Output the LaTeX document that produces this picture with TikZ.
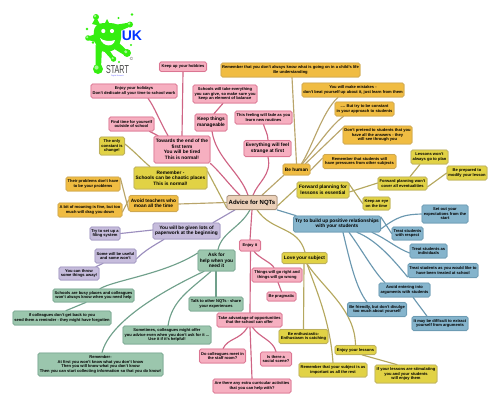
\documentclass[tikz,border=0pt]{standalone}
\usepackage{fontspec}
\setmainfont{Liberation Sans}
\usetikzlibrary{backgrounds}
\definecolor{pkF}{HTML}{F6AFC0}\definecolor{pkD}{HTML}{DB7592}\definecolor{pkL}{HTML}{CF6484}
\definecolor{gdF}{HTML}{F0BC42}\definecolor{gdD}{HTML}{CFA850}\definecolor{gdL}{HTML}{B9A56B}
\definecolor{ylF}{HTML}{E1D245}\definecolor{ylD}{HTML}{BDB05C}\definecolor{ylL}{HTML}{B5A85F}
\definecolor{ppF}{HTML}{C6BCDC}\definecolor{ppD}{HTML}{A298C2}\definecolor{ppL}{HTML}{9C8FBE}
\definecolor{grF}{HTML}{9BC6AD}\definecolor{grD}{HTML}{7AA892}\definecolor{grL}{HTML}{70A08B}
\definecolor{blF}{HTML}{85B4CC}\definecolor{blD}{HTML}{6C9BB3}\definecolor{blL}{HTML}{6B98B0}
\definecolor{ctF}{HTML}{EBD0B8}\definecolor{ctD}{HTML}{A8937E}
\definecolor{splat}{HTML}{35EE10}
\tikzset{
  x=1pt,y=-1pt,
  box/.style={draw,rounded corners=1.6pt,line width=0.7pt,align=center,inner sep=0pt,text=black,
     preaction={draw,draw opacity=0.3,line width=1.5pt},
     font=\bfseries\fontsize{4.05}{4.5}\selectfont},
  med/.style={font=\bfseries\fontsize{4.8}{5.5}\selectfont},
  pk/.style={box,fill=pkF,draw=pkD},
  gd/.style={box,fill=gdF,draw=gdD},
  yl/.style={box,fill=ylF,draw=ylD},
  pp/.style={box,fill=ppF,draw=ppD},
  gr/.style={box,fill=grF,draw=grD},
  bl/.style={box,fill=blF,draw=blD},
  sz/.style 2 args={minimum width=#1pt,minimum height=#2pt},
  lk/.style={line width=1.15pt,line cap=round},
  pkl/.style={lk,draw=pkL},
  gdl/.style={lk,draw=gdL},
  yll/.style={lk,draw=ylL},
  ppl/.style={lk,draw=ppL},
  grl/.style={lk,draw=grL},
  bll/.style={lk,draw=blL},
}
\begin{document}
\begin{tikzpicture}
\useasboundingbox (0,0) rectangle (500,405);
% ---- logo
\fill[splat] plot[smooth cycle,tension=0.7] coordinates {(96,26)(107,23)(119,26)(121,38)(117,47)(108,52)(99,49)(94,38)};
\fill[splat] (92,24)--(96,17)--(101,26)--cycle;
\fill[splat] (114,25)--(130,22.5)--(130,26.5)--(118,32)--cycle;
\fill[splat] (96,34)--(88,36.5)--(88,40)--(96,42)--cycle;
\fill[splat] (104,25)--(107,19)--(110,25)--cycle;
\fill[splat] (116,40)--(127,50.5)--(125,55.5)--(111,47)--cycle;
\fill[splat] (108,48)--(114,57)--(111.5,59.5)--(103,50)--cycle;
\fill[splat] (102,47)--(101,68)--(95.5,67)--(95.5,45)--cycle;
\foreach \cx/\cy/\r in {96/17/3,130/24.5/3,88/38/2.8,127/53/4,113.5/59/2.8,98/69/5}{
  \fill[splat] (\cx,\cy) circle (\r);
  \fill[splat!45!white] (\cx-0.3*\r,\cy-0.3*\r) circle (0.42*\r);
}
\foreach \cx/\cy/\r in {132/14.5/1.3,118.5/18/1.2,87/29/1.4,93/42.5/1.3,131/45/1.2,119/62/1.1}{
  \fill[splat] (\cx,\cy) circle (\r);
}
\fill[white] (103.3,31) circle (2.1);
\fill[white] (112,31) circle (2.1);
\fill[white] (100,38) .. controls (103,41) and (110,42) .. (115,40) .. controls (114,47) and (103,48) .. (100,38) -- cycle;
\node[inner sep=0pt,text=blue!80!cyan,font=\bfseries\fontsize{14}{14}\selectfont] (uk) at (132,35.5) {UK};
\node[inner sep=0pt,font=\fontsize{11.5}{11.5}\selectfont,text=black!75] (start) at (117.5,70) {\scalebox{0.62}[1]{START}};
\node[inner sep=0pt,font=\fontsize{1.9}{2}\selectfont,text=blue!60] (net) at (117.5,76) {Digital Network};
\node[inner sep=0pt,font=\fontsize{4.5}{5}\selectfont,text=black!70] (cr) at (131.5,58.7) {©};
% ---- nodes
\node[box,med,fill=ctF,draw=ctD,sz={50}{14},font=\bfseries\fontsize{6}{7}\selectfont] (root) at (252,202.5) {Advice for NQTs};
% pink
\node[pk,sz={47}{9.5}] (hobby) at (183,66.7) {Keep up your hobbies};
\node[pk,sz={86}{14}] (holiday) at (134,91) {Enjoy your holidays\\Don't dedicate all your time to school work};
\node[pk,sz={45}{14}] (findtime) at (131.5,124) {Find time for yourself\\outside of school};
\node[pk,med,sz={56}{27}] (towards) at (182,149.5) {Towards the end of the\\first term\\You will be tired\\This is normal!};
\node[pk,sz={64}{18}] (schools) at (225,94) {Schools will take everything\\you can give, so make sure you\\keep an element of balance};
\node[pk,med,sz={32}{17}] (keep) at (211,122.5) {Keep things\\manageable};
\node[pk,sz={57}{13}] (feeling) at (263.5,117.5) {This feeling will fade as you\\learn new routines};
\node[pk,med,sz={47}{16}] (every) at (267.5,148.5) {Everything will feel\\strange at first};
\node[pk,sz={21}{11}] (enjoy) at (250,245.5) {Enjoy it};
\node[pk,sz={50}{14}] (things) at (277,275) {Things will go right and\\things will go wrong};
\node[pk,sz={29}{9}] (pragmatic) at (281.5,296.5) {Be pragmatic};
\node[pk,sz={65}{14}] (advantage) at (249.5,320) {Take advantage of opportunities\\that the school can offer};
\node[pk,sz={46}{14}] (staff) at (222.5,356) {Do colleagues meet in\\the staff room?};
\node[pk,sz={31}{14}] (social) at (276,359) {Is there a\\social scene?};
\node[pk,sz={78}{14}] (extra) at (252,386) {Are there any extra curricular activities\\that you can help with?};
% gold
\node[gd,sz={139}{14}] (child) at (290.5,70) {Remember that you don't always know what is going on in a child's life\\Be understanding};
\node[gd,sz={102}{14}] (mistakes) at (353,90) {You will make mistakes -\\don't beat yourself up about it, just learn from them};
\node[gd,sz={59}{14}] (constant) at (364.5,109) {.... But try to be constant\\in your approach to students};
\node[gd,sz={69}{18}] (pretend) at (377.5,135) {Don't pretend to students that you\\have all the answers - they\\will see through you};
\node[gd,sz={73}{14}] (pressures) at (359.5,161.5) {Remember that students will\\have pressures from other subjects};
\node[gd,med,sz={27}{11}] (human) at (296.5,169.5) {Be human};
\node[gd,med,sz={49}{16}] (avoid) at (153.5,203.5) {Avoid teachers who\\moan all the time};
\node[gd,sz={54}{14}] (problems) at (93,184) {Their problems don't have\\to be your problems};
\node[gd,sz={64}{14}] (moaning) at (90,210) {A bit of moaning is fine, but too\\much will drag you down};
% yellow
\node[yl,sz={25}{18}] (change) at (112,146) {The only\\constant is\\change!};
\node[yl,med,sz={73}{22}] (chaotic) at (170.5,178) {Remember -\\Schools can be chaotic places\\This is normal!};
\node[yl,med,sz={52}{16}] (forward) at (323,190) {Forward planning for\\lessons is essential};
\node[yl,sz={49}{13}] (wont) at (402.5,183.5) {Forward planning won't\\cover all eventualities};
\node[yl,sz={37}{14}] (plan) at (429.5,157) {Lessons won't\\always go to plan};
\node[yl,sz={40}{14}] (modify) at (467,173) {Be prepared to\\modify your lesson};
\node[yl,sz={27}{13}] (eye) at (376.5,203.5) {Keep an eye\\on the time};
\node[yl,med,sz={45}{11}] (love) at (304.5,258) {Love your subject};
\node[yl,sz={49}{14}] (enthus) at (303.5,336.5) {Be enthusiastic-\\Enthusiasm is catching};
\node[yl,sz={41}{9}] (enjoyles) at (355.5,350) {Enjoy your lessons};
\node[yl,sz={68}{14}] (important) at (333,370) {Remember that your subject is as\\important as all the rest};
\node[yl,sz={62}{18}] (stimulating) at (406,374) {If your lessons are stimulating\\you and your students\\will enjoy them};
% blue
\node[bl,med,sz={87}{16}] (relation) at (337,224) {Try to build up positive relationships\\with your students};
\node[bl,sz={46}{18}] (setout) at (445,214) {Set out your\\expectations from the\\start};
\node[bl,sz={31}{13}] (respect) at (407.5,233.5) {Treat students\\with respect};
\node[bl,sz={37}{14}] (indiv) at (428.5,251) {Treat students as\\individuals};
\node[bl,sz={70}{14}] (treated) at (443,270.5) {Treat students as you would like to\\have been treated at school};
\node[bl,sz={51}{14}] (argue) at (404.5,290) {Avoid entering into\\arguments with students};
\node[bl,sz={59}{14}] (friendly) at (377,309.5) {Be friendly, but don't divulge\\too much about yourself};
\node[bl,sz={56}{14}] (extract) at (440,323.5) {It may be difficult to extract\\yourself from arguments};
% green
\node[gr,med,sz={37}{21}] (ask) at (216.5,260.5) {Ask for\\help when you\\need it};
\node[gr,sz={81}{13}] (busy) at (93.5,295.5) {Schools are busy places and colleagues\\won't always know when you need help};
\node[gr,sz={98}{14}] (reminder) at (62,318) {If colleagues don't get back to you\\send them a reminder - they might have forgotten};
\node[gr,sz={54}{14}] (talk) at (216,304) {Talk to other NQTs - share\\your experiences};
\node[gr,sz={88}{18}] (sometimes) at (167,335) {Sometimes, colleagues might offer\\you advice even when you don't ask for it ...\\Use it if it's helpful!};
\node[gr,sz={125}{23}] (first) at (100.5,364.5) {Remember-\\At first you won't know what you don't know\\Then you will know what you don't know\\Then you can start collecting information so that you do know!};
% purple
\node[pp,med,sz={67}{16}] (paper) at (186.5,231) {You will be given lots of\\paperwork at the beginning};
\node[pp,sz={30}{13}] (filing) at (105,233.5) {Try to set up a\\filing system};
\node[pp,sz={41}{14}] (useful) at (115.5,256) {Some will be useful\\and some won't};
\node[pp,sz={40}{13}] (throw) at (79,273.5) {You can throw\\some things away!};
% ---- connectors
\begin{scope}[on background layer]
\draw[pkl] ([xshift=-12pt]root.north) .. controls (232,188) and (220,172) .. (towards.south east);
\draw[pkl] ([xshift=-4pt]root.north) .. controls (240,172) and (216,158) .. ([xshift=1pt]keep.south);
\draw[pkl] ([xshift=3pt]keep.north) -- ([xshift=-2pt]schools.south);
\draw[pkl] (towards.north) -- (hobby.south);
\draw[pkl] ([xshift=-14pt]towards.north) .. controls (160,122) and (154,106) .. ([xshift=14pt]holiday.south);
\draw[pkl] ([xshift=-24pt]towards.north) -- ([xshift=18pt]findtime.south);
\draw[pkl] ([xshift=1pt]root.north) .. controls (258,182) and (272,175) .. ([xshift=0.5pt]every.south);
\draw[pkl] ([xshift=0.5pt]every.north) .. controls (268,134) and (265,130) .. (feeling.south);
\draw[pkl] (root.south) -- (enjoy.north);
\draw[pkl] ([xshift=4pt]enjoy.south) .. controls (259,258) and (272,263) .. ([xshift=-3pt]things.north);
\draw[pkl] ([xshift=1pt]things.south) -- (pragmatic.north);
\draw[pkl] ([xshift=0.5pt]enjoy.south) -- ([xshift=0.5pt]advantage.north);
\draw[pkl] ([xshift=0.5pt]advantage.south) -- (extra.north);
\draw[pkl] ([xshift=-2pt]advantage.south) .. controls (240,340) and (228,338) .. ([xshift=0.5pt]staff.north);
\draw[pkl] ([xshift=3pt]advantage.south) .. controls (260,338) and (273,340) .. (social.north);
\draw[yll] ([yshift=-5pt]root.west) -- ([yshift=7pt]chaotic.east);
\draw[yll] ([xshift=-20.5pt]chaotic.north) .. controls (142,160) and (134,151) .. ([yshift=2pt]change.east);
\draw[gdl] (root.west) -- ([yshift=-0.5pt]avoid.east);
\draw[gdl] ([yshift=-6.5pt]avoid.west) -- ([yshift=6pt]problems.east);
\draw[gdl] ([yshift=3.5pt]avoid.west) -- ([yshift=-2pt]moaning.east);
\draw[gdl] ([xshift=10pt]root.north) -- ([xshift=1pt]human.south west);
\draw[gdl] (human.north) -- ([xshift=1.5pt]child.south);
\draw[gdl] ([xshift=5pt]human.north) .. controls (312,148) and (322,112) .. ([xshift=-15pt]mistakes.south);
\draw[gdl] ([xshift=6pt]human.north) .. controls (316,148) and (330,126) .. ([xshift=-21pt]constant.south);
\draw[gdl] ([xshift=9pt]human.north) -- ([yshift=7pt]pretend.west);
\draw[gdl] ([yshift=-1pt]human.east) -- ([yshift=3.5pt]pressures.west);
\draw[yll] ([yshift=-3.5pt]root.east) -- ([yshift=2pt]forward.west);
\draw[yll] ([yshift=-2pt]forward.east) -- ([yshift=0.5pt]wont.west);
\draw[yll] ([xshift=7.5pt]wont.north) -- ([xshift=-9.5pt]plan.south);
\draw[yll] ([yshift=-3.5pt]wont.east) -- (modify.west);
\draw[yll] ([xshift=-1pt,yshift=7pt]forward.east) -- (eye.west);
\draw[bll] ([xshift=25pt]root.south) -- ([xshift=-41pt]relation.north);
\draw[bll] ([yshift=-5pt]relation.east) .. controls (398,216) and (405,214.5) .. (setout.west);
\draw[bll] ([yshift=7pt]relation.east) -- (respect.west);
\draw[bll] ([xshift=35pt]relation.south) .. controls (385,238) and (398,249) .. ([yshift=-2pt]indiv.west);
\draw[bll] ([xshift=20pt]relation.south) .. controls (376,240) and (392,258) .. ([yshift=-6.5pt]treated.west);
\draw[bll] ([xshift=12pt]relation.south) .. controls (362,250) and (374,272) .. ([xshift=-19.5pt]argue.north);
\draw[bll] ([xshift=6pt]relation.south) .. controls (350,262) and (356,288) .. ([xshift=-10pt]friendly.north);
\draw[bll] ([xshift=8.5pt]argue.south) -- ([xshift=-13pt]extract.north);
\draw[yll] ([xshift=5pt]root.south) .. controls (272,232) and (298,226) .. ([xshift=0.5pt]love.north);
\draw[yll] ([xshift=-0.5pt]love.south) -- (enthus.north);
\draw[yll] ([xshift=2.5pt]love.south) .. controls (316,290) and (330,320) .. (important.north);
\draw[yll] ([xshift=2.5pt]love.south) .. controls (325,290) and (355,310) .. (enjoyles.north);
\draw[yll] ([xshift=6.5pt]enjoyles.south) -- ([xshift=-9pt]stimulating.north);
\draw[grl] ([xshift=-2pt]root.south) .. controls (240,228) and (222,232) .. ([xshift=1.5pt]ask.north);
\draw[grl] ([xshift=-0.5pt]ask.south) -- (talk.north);
\draw[grl] ([yshift=7.5pt]ask.west) .. controls (165,274) and (115,280) .. ([xshift=6.5pt]busy.north);
\draw[grl] ([xshift=-7.5pt]busy.south) -- ([xshift=4pt]reminder.north);
\draw[grl] ([xshift=-5.5pt]ask.south) .. controls (190,290) and (172,300) .. ([xshift=1pt]sometimes.north);
\draw[grl] ([xshift=-12.5pt]ask.south) .. controls (160,292) and (110,322) .. ([xshift=1.5pt]first.north);
\draw[ppl] ([xshift=-17pt]root.south) -- ([xshift=26.5pt]paper.north);
\draw[ppl] ([yshift=1pt]paper.west) -- (filing.east);
\draw[ppl] ([xshift=-22.5pt]paper.south) .. controls (155,245) and (145,250) .. ([yshift=-3pt]useful.east);
\draw[ppl] ([xshift=-12.5pt]useful.south) -- ([xshift=17pt]throw.north);
\end{scope}
\end{tikzpicture}
\end{document}
